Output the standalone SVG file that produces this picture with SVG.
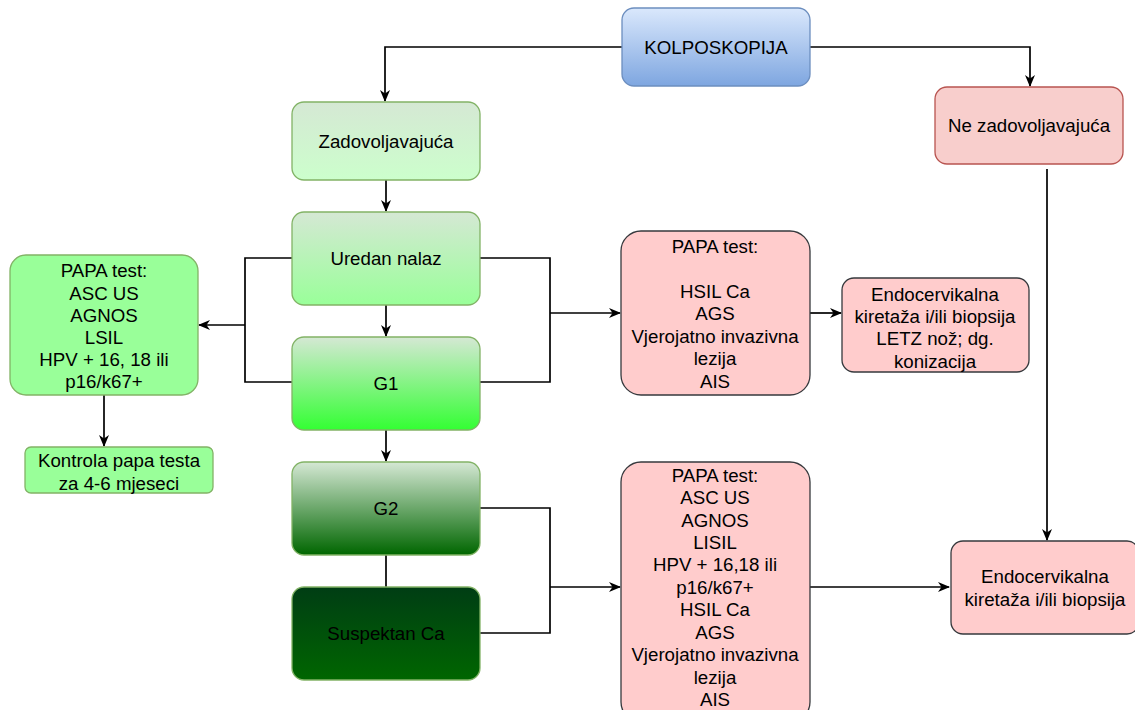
<svg xmlns="http://www.w3.org/2000/svg" width="1135" height="710" viewBox="0 0 1135 710">
<defs>
<linearGradient id="gBlue" x1="0" y1="0" x2="0" y2="1"><stop offset="0" stop-color="#dae8fc"/><stop offset="1" stop-color="#7ea6e0"/></linearGradient>
<linearGradient id="gZad" x1="0" y1="0" x2="0" y2="1"><stop offset="0" stop-color="#d5e8d4"/><stop offset="1" stop-color="#ccffcc"/></linearGradient>
<linearGradient id="gUre" x1="0" y1="0" x2="0" y2="1"><stop offset="0" stop-color="#d5e8d4"/><stop offset="1" stop-color="#99ff99"/></linearGradient>
<linearGradient id="gG1" x1="0" y1="0" x2="0" y2="1"><stop offset="0" stop-color="#d5e8d4"/><stop offset="1" stop-color="#33ff33"/></linearGradient>
<linearGradient id="gG2" x1="0" y1="0" x2="0" y2="1"><stop offset="0" stop-color="#d5e8d4"/><stop offset="1" stop-color="#006600"/></linearGradient>
<linearGradient id="gSus" x1="0" y1="0" x2="0" y2="1"><stop offset="0" stop-color="#003d14"/><stop offset="1" stop-color="#006600"/></linearGradient>
<marker id="arr" viewBox="0 0 12 12" refX="11" refY="6" markerWidth="12" markerHeight="12" markerUnits="userSpaceOnUse" orient="auto"><path d="M0,1 L12,6 L0,11 L3.5,6 Z" fill="#000"/></marker>
</defs>
<style>
text{font-family:"Liberation Sans",Arial,sans-serif;font-size:18.7px;fill:#000;text-anchor:middle}
.c{fill:none;stroke:#000;stroke-width:1.7}
.ca{fill:none;stroke:#000;stroke-width:1.7;marker-end:url(#arr)}
.gr{stroke:#82b366;stroke-width:1.3}
.pk{fill:#ffcccc;stroke:#36393d;stroke-width:1.3}
</style>
<g id="connectors">
<path class="ca" d="M622,47 H385 V101"/>
<path class="ca" d="M810,47 H1030 V86"/>
<path class="ca" d="M1047,169 V540"/>
<path class="ca" d="M386,180 V211"/>
<path class="ca" d="M386,305 V336"/>
<path class="ca" d="M386,430 V461"/>
<path class="c" d="M292,258 H245 V382 H292"/>
<path class="ca" d="M245,325 H199"/>
<path class="c" d="M480,258 H550 V382 H480"/>
<path class="ca" d="M550,313 H620"/>
<path class="ca" d="M810,313 H841"/>
<path class="ca" d="M104,395 V446"/>
<path class="c" d="M386,555 V587"/>
<path class="c" d="M480,508 H550 V633 H480"/>
<path class="ca" d="M550,587 H620"/>
<path class="ca" d="M810,587 H949"/>
</g>
<g id="kolposkopija"><rect x="622" y="8" width="188" height="78" rx="12" fill="url(#gBlue)" stroke="#6c8ebf" stroke-width="1.3"/><text x="716" y="54">KOLPOSKOPIJA</text></g>
<g id="zadovoljavajuca"><rect x="292" y="102" width="188" height="78" rx="12" fill="url(#gZad)" class="gr"/><text x="386" y="148">Zadovoljavajuća</text></g>
<g id="ne-zadovoljavajuca"><rect x="935" y="87" width="188" height="77" rx="12" fill="#f8cecc" stroke="#b85450" stroke-width="1.3"/><text x="1029" y="132">Ne zadovoljavajuća</text></g>
<g id="uredan"><rect x="292" y="212" width="188" height="93" rx="12" fill="url(#gUre)" class="gr"/><text x="386" y="265">Uredan nalaz</text></g>
<g id="g1"><rect x="292" y="337" width="188" height="93" rx="12" fill="url(#gG1)" class="gr"/><text x="386" y="390">G1</text></g>
<g id="g2"><rect x="292" y="462" width="188" height="93" rx="12" fill="url(#gG2)" class="gr"/><text x="386" y="515">G2</text></g>
<g id="suspektan"><rect x="292" y="587" width="188" height="93" rx="12" fill="url(#gSus)" class="gr"/><text x="386" y="640">Suspektan Ca</text></g>
<g id="papa-left"><rect x="10" y="255" width="188" height="140" rx="16" fill="#99ff99" class="gr"/>
<text x="104" y="277">PAPA test:</text><text x="104" y="300">ASC US</text><text x="104" y="322">AGNOS</text><text x="104" y="344">LSIL</text><text x="104" y="366">HPV + 16, 18 ili</text><text x="104" y="388">p16/k67+</text></g>
<g id="kontrola"><rect x="25" y="447" width="188" height="46" rx="6" fill="#99ff99" class="gr"/><text x="119" y="467">Kontrola papa testa</text><text x="119" y="490">za 4-6 mjeseci</text></g>
<g id="papa-1"><rect x="621" y="231" width="189" height="164" rx="20" class="pk"/>
<text x="715" y="253">PAPA test:</text><text x="715" y="298">HSIL Ca</text><text x="715" y="320">AGS</text><text x="715" y="343">Vjerojatno invazivna</text><text x="715" y="365">lezija</text><text x="715" y="388">AIS</text></g>
<g id="letz"><rect x="842" y="278" width="187" height="94" rx="12" class="pk"/>
<text x="935" y="301">Endocervikalna</text><text x="935" y="323">kiretaža i/ili biopsija</text><text x="935" y="345">LETZ nož; dg.</text><text x="935" y="368">konizacija</text></g>
<g id="papa-2"><rect x="621" y="462" width="189" height="260" rx="20" class="pk"/>
<text x="715" y="482">PAPA test:</text><text x="715" y="504">ASC US</text><text x="715" y="527">AGNOS</text><text x="715" y="549">LISIL</text><text x="715" y="571">HPV + 16,18 ili</text><text x="715" y="594">p16/k67+</text><text x="715" y="616">HSIL Ca</text><text x="715" y="639">AGS</text><text x="715" y="661">Vjerojatno invazivna</text><text x="715" y="684">lezija</text><text x="715" y="706">AIS</text></g>
<g id="endocervikalna"><rect x="951" y="541" width="188" height="93" rx="12" class="pk"/>
<text x="1045" y="583">Endocervikalna</text><text x="1045" y="606">kiretaža i/ili biopsija</text></g>
</svg>
